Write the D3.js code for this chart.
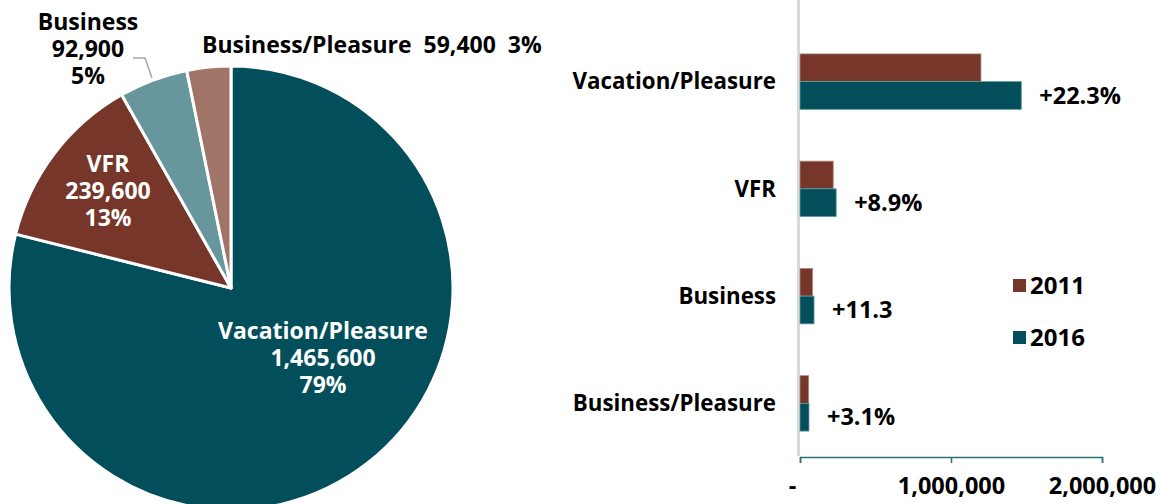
<!DOCTYPE html>
<html>
<head>
<meta charset="utf-8">
<script src="https://cdn.jsdelivr.net/npm/d3@7"></script>
<style>
  body { margin: 0; background: #fff; }
  text { font-family: "Open Sans", sans-serif; font-weight: 700; }
</style>
</head>
<body>
<svg id="chart" width="1170" height="504"></svg>
<script>
// purpose of trip, visitors
var categories = ['Vacation/Pleasure', 'VFR', 'Business', 'Business/Pleasure'];
var visitors2016 = [1465600, 239600, 92900, 59400];
var visitors2011 = [1198400, 220000, 83500, 57600];
var shares = ['79%', '13%', '5%', '3%'];
var changes = ['+22.3%', '+8.9%', '+11.3', '+3.1%'];
var years = ['2011', '2016'];
var xTicks = [0, 1000000, 2000000];

var pieColors = ['#024e5a', '#76372a', '#67979c', '#a07567'];
var yearColors = { '2011': '#76372a', '2016': '#024e5a' };

var svg = d3.select('#chart');
var fmt = d3.format(',');

// ---- pie ----
var cx = 231, cy = 288, r = 222;
var pie = d3.pie().sort(null).value(function(d){ return d; });
var arc = d3.arc().innerRadius(0).outerRadius(r);
var arcs = pie(visitors2016);

var gp = svg.append('g').attr('transform', 'translate(' + cx + ',' + cy + ')');
gp.selectAll('path')
  .data(arcs)
  .enter().append('path')
  .attr('d', arc)
  .attr('fill', function(d, i){ return pieColors[i]; })
  .attr('stroke', '#fff')
  .attr('stroke-width', 3)
  .attr('stroke-linejoin', 'round');

function block(x, y, lines, color) {
  var t = svg.append('text')
    .attr('text-anchor', 'middle')
    .attr('fill', color)
    .style('font-size', '23px');
  lines.forEach(function(s, k){
    t.append('tspan').attr('x', x).attr('y', y + k * 26.8).text(s);
  });
}

block(323, 339, [categories[0], fmt(visitors2016[0]), shares[0]], '#fff');
block(108, 172, [categories[1], fmt(visitors2016[1]), shares[1]], '#fff');
block(88, 30, [categories[2], fmt(visitors2016[2]), shares[2]], '#000');
svg.append('text')
  .attr('x', 202).attr('y', 53)
  .attr('fill', '#000')
  .style('font-size', '23px')
  .style('white-space', 'pre')
  .text(categories[3] + '  ' + fmt(visitors2016[3]) + '  ' + shares[3]);

svg.append('polyline')
  .attr('points', '133,58 145,58 152,78')
  .attr('fill', 'none')
  .attr('stroke', '#a6a6a6')
  .attr('stroke-width', 1.5);

// ---- bars ----
var x = d3.scaleLinear().domain([0, 2000000]).range([800, 1102]);
var y = d3.scaleBand().domain(categories).range([28, 457])
  .paddingInner(0.483).paddingOuter(0.2415);
var ySub = d3.scaleBand().domain(years).range([0, y.bandwidth()]);

svg.append('line')
  .attr('x1', 798.5).attr('x2', 798.5)
  .attr('y1', 0).attr('y2', 456)
  .attr('stroke', '#d9d9d9')
  .attr('stroke-width', 3);

var rows = categories.map(function(c, i){
  return { cat: c, vals: [visitors2011[i], visitors2016[i]], change: changes[i] };
});

var gb = svg.append('g');
var grp = gb.selectAll('g.cat')
  .data(rows)
  .enter().append('g')
  .attr('class', 'cat')
  .attr('transform', function(d){ return 'translate(0,' + y(d.cat) + ')'; });

grp.selectAll('rect')
  .data(function(d){ return d.vals.map(function(v, k){ return { year: years[k], v: v }; }); })
  .enter().append('rect')
  .attr('x', x(0))
  .attr('y', function(d){ return ySub(d.year); })
  .attr('width', function(d){ return x(d.v) - x(0); })
  .attr('height', ySub.bandwidth())
  .attr('fill', function(d){ return yearColors[d.year]; })
  .attr('stroke', function(d){ return d.year === '2011' ? '#b08a80' : '#5f9aa1'; })
  .attr('stroke-width', 0.8);

grp.append('text')
  .attr('x', function(d){ return x(d.vals[1]) + 18; })
  .attr('y', function(d){ return ySub('2016') + ySub.bandwidth() / 2; })
  .attr('dy', '0.35em')
  .style('font-size', '23.5px')
  .attr('fill', '#000')
  .text(function(d){ return d.change; });

grp.append('text')
  .attr('x', 776)
  .attr('y', y.bandwidth() / 2)
  .attr('dy', '0.35em')
  .attr('text-anchor', 'end')
  .style('font-size', '22.3px')
  .attr('fill', '#000')
  .text(function(d){ return d.cat; });

// axis
var ax = svg.append('g')
  .attr('transform', 'translate(0,457)')
  .call(d3.axisBottom(x).tickValues(xTicks).tickSize(6)
    .tickFormat(function(v){ return v === 0 ? '-' : fmt(v); }));
ax.select('.domain').attr('stroke', '#2e6f73').attr('stroke-width', 1.5);
ax.selectAll('.tick line').attr('stroke', '#2e6f73').attr('stroke-width', 1.5);
ax.selectAll('.tick text')
  .attr('y', 20)
  .attr('dx', function(v){ return v === 0 ? -8 : 0; })
  .attr('fill', '#000')
  .style('font-family', '"Open Sans", sans-serif')
  .style('font-weight', 700)
  .style('font-size', '23.5px');

// legend
var lg = svg.append('g').selectAll('g')
  .data(years)
  .enter().append('g')
  .attr('transform', function(d, i){ return 'translate(1013,' + (279 + i * 52) + ')'; });
lg.append('rect').attr('width', 13).attr('height', 13)
  .attr('fill', function(d){ return yearColors[d]; });
lg.append('text').attr('x', 17).attr('y', 6.5).attr('dy', '0.35em')
  .style('font-size', '24px').attr('fill', '#000')
  .text(function(d){ return d; });
</script>
</body>
</html>
